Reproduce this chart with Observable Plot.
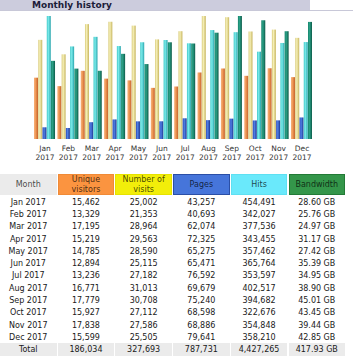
<!DOCTYPE html>
<html>
<head>
<meta charset="utf-8">
<script src="https://cdn.jsdelivr.net/npm/d3@7"></script>
<script src="https://cdn.jsdelivr.net/npm/@observablehq/plot@0.6"></script>
<style>
  html, body { margin: 0; padding: 0; background: #fff; }
  body { width: 353px; height: 360px; position: relative; overflow: hidden; font-family: "DejaVu Sans", Verdana, sans-serif; }
  #chart { position: absolute; left: 0; top: 0; }
  .title { position: absolute; left: 0; top: 0; width: 310px; height: 10px; background: #ccccdd; }
  .title span { position: absolute; left: 32px; top: 0; line-height: 10px; font-size: 9px; font-weight: bold; color: #1c1c3a; white-space: nowrap; }
  .rule { position: absolute; left: 0; top: 10px; width: 353px; height: 1px; background: #c8c8d8; }
  .cell { position: absolute; display: flex; align-items: center; justify-content: center; text-align: center; font-size: 8px; color: #1a1a1a; white-space: nowrap; box-sizing: border-box; }
  .hd { line-height: 10px; color: rgba(0,0,0,0.72); }
</style>
</head>
<body>
<div id="chart"></div>
<div class="title"><span>Monthly history</span></div>
<div class="rule"></div>
<div id="table"></div>
<script>
// ---- data ----
const months = ["Jan","Feb","Mar","Apr","May","Jun","Jul","Aug","Sep","Oct","Nov","Dec"];
const year = "2017";
const visitors = [15462,13329,17195,15219,14785,12894,13236,16771,17779,15927,17838,15599];
const visits   = [25002,21353,28964,29563,28590,25115,27182,31013,30708,27112,27586,25505];
const pages    = [43257,40693,62074,72325,65275,65471,76592,69679,75240,68598,68886,79641];
const hits     = [454491,342027,377536,343455,357462,365764,353597,402517,394682,322676,354848,358210];
const bandwidthGB = [28.60,25.76,24.97,31.17,27.42,35.39,34.95,38.90,45.01,43.45,39.44,42.85];
const totalLabels = ["Total","186,034","327,693","787,731","4,427,265","417.93 GB"];
const headerLabels = ["Month","Unique<br>visitors","Number of<br>visits","Pages","Hits","Bandwidth"];
const seriesKeys = ["visitors","visits","pages","hits","bandwidth"];
const headerFills = ["#ebebeb","#fb9440","#f2ee0a","#4675da","#6ae9fb","#34964a"];
const headerBorders = ["#ebebeb","#f08a36","#e6e200","#2b4fa6","#5ee0f2","#237a36"];

// AWStats-style scaling: visitors & visits share visits max, pages & hits share hits max, bandwidth own max
const maxVisits = d3.max(visits), maxHits = d3.max(hits), maxBw = d3.max(bandwidthGB);
const data = [];
months.forEach((m, i) => {
  data.push({month: m, series: "visitors", v: visitors[i] / maxVisits});
  data.push({month: m, series: "visits", v: visits[i] / maxVisits});
  data.push({month: m, series: "pages", v: pages[i] / maxHits});
  data.push({month: m, series: "hits", v: hits[i] / maxHits});
  data.push({month: m, series: "bandwidth", v: bandwidthGB[i] / maxBw});
});

const svg = Plot.plot({
  width: 353,
  height: 170,
  marginTop: 16,
  marginBottom: 31,
  marginLeft: 34,
  marginRight: 41,
  style: {fontFamily: "DejaVu Sans, Verdana, sans-serif", fontSize: "7.5px", color: "#333", background: "transparent"},
  fx: {domain: months, paddingInner: 0.1, paddingOuter: 0, round: false, label: null, axis: null},
  x: {domain: seriesKeys, paddingInner: 0.06, paddingOuter: 0, round: false, axis: null},
  y: {domain: [0, 1], axis: null},
  marks: [
    Plot.barY(data, {fx: "month", x: "series", y: "v", fill: d => `url(#g-${d.series})`, inset: 0}),
    Plot.axisFx({anchor: "bottom", tickSize: 0, tickPadding: 4.5, lineHeight: 1.25, fontSize: 7.5, fill: "#333",
      tickFormat: m => m + "\n" + year, label: null})
  ]
});

// gradient defs for the 3D-look bars
const grads = {
  visitors: ["#f6b27c", "#f09a58", "#c4622a"],
  visits: ["#d9cb7c", "#f5efb6", "#c7b55e"],
  pages: ["#2a48b8", "#5080e4", "#1c3590"],
  hits: ["#40c8c8", "#7aeaea", "#28a4ac"],
  bandwidth: ["#16846c", "#2aa086", "#0c5a48"]
};
const defs = d3.select(svg).insert("defs", ":first-child");
for (const k of seriesKeys) {
  const g = defs.append("linearGradient").attr("id", "g-" + k).attr("x1", 0).attr("x2", 1).attr("y1", 0).attr("y2", 0);
  g.append("stop").attr("offset", "0").attr("stop-color", grads[k][0]);
  g.append("stop").attr("offset", "0.4").attr("stop-color", grads[k][1]);
  g.append("stop").attr("offset", "1").attr("stop-color", grads[k][2]);
}
document.getElementById("chart").appendChild(svg);

// ---- table ----
const tbl = document.getElementById("table");
const colStep = 57.7, colW = 56.5;
function cell(i, top, h, html, extra, cls) {
  const d = document.createElement("div");
  d.className = "cell" + (cls ? " " + cls : "");
  d.style.left = (i * colStep) + "px";
  d.style.top = top + "px";
  d.style.width = colW + "px";
  d.style.height = h + "px";
  if (extra) Object.assign(d.style, extra);
  d.innerHTML = html;
  tbl.appendChild(d);
}
headerLabels.forEach((t, i) => cell(i, 174, 21, t, {background: headerFills[i], border: "1px solid " + headerBorders[i]}, "hd"));
const fmt = d3.format(",");
months.forEach((m, r) => {
  const top = 196 + r * 12.3;
  const vals = [m + " " + year, fmt(visitors[r]), fmt(visits[r]), fmt(pages[r]), fmt(hits[r]), bandwidthGB[r].toFixed(2) + " GB"];
  vals.forEach((t, i) => cell(i, top, 12.3, t));
});
totalLabels.forEach((t, i) => cell(i, 343, 13, t, {background: "#ebebeb"}));
</script>
</body>
</html>
